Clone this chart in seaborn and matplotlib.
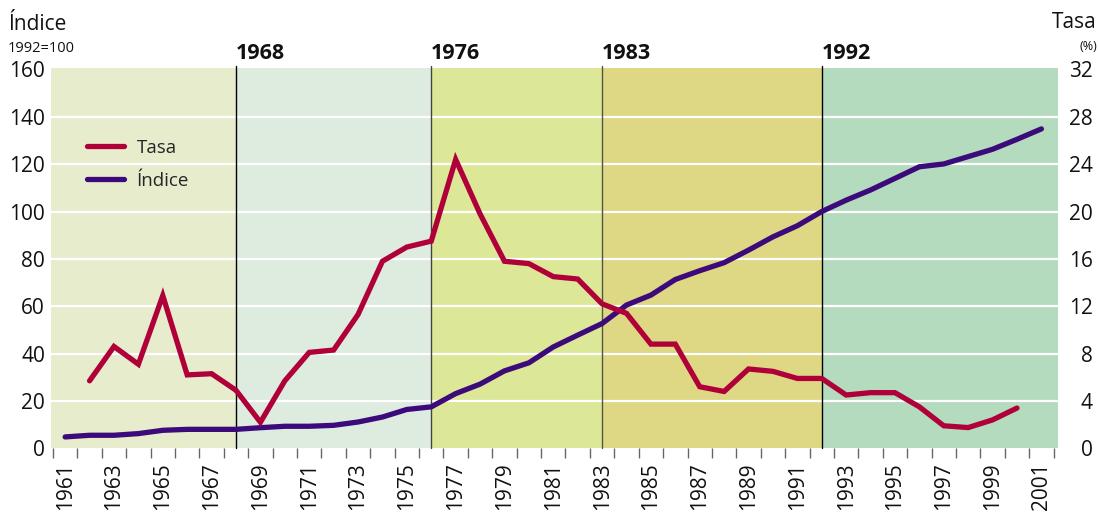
import numpy as np
import pandas as pd
import seaborn as sns
import matplotlib.pyplot as plt
from matplotlib.lines import Line2D
import matplotlib.transforms as mtransforms

# Datos
years = list(range(1961, 2002))
indice = [4.8, 5.5, 5.5, 6.2, 7.6, 8.0, 8.0, 8.0, 8.7, 9.3, 9.3, 9.7, 11.1, 13.2,
          16.4, 17.5, 23.1, 27.1, 32.7, 36.1, 42.8, 47.8, 52.7, 60.5, 64.7, 71.3,
          75.0, 78.4, 83.7, 89.3, 94.0, 100.0, 104.8, 109.1, 114.0, 118.9, 120.1,
          123.2, 126.3, 130.5, 134.9]
tasa_years = list(range(1962, 2001))
tasa = [5.7, 8.6, 7.1, 12.9, 6.2, 6.3, 4.9, 2.2, 5.7, 8.1, 8.3, 11.3, 15.8, 17.0,
        17.5, 24.4, 19.8, 15.8, 15.6, 14.5, 14.3, 12.2, 11.4, 8.8, 8.8, 5.2, 4.8,
        6.7, 6.5, 5.9, 5.9, 4.5, 4.7, 4.7, 3.5, 1.9, 1.75, 2.4, 3.4]
periodos = [1968, 1976, 1983, 1992]
periodo_colores = ["#E6ECCC", "#DEEBDF", "#DCE797", "#DED783", "#B5DBBF"]
periodo_lineas = ["black", "#444444", "#555544", "black"]
left_ticks = [0, 20, 40, 60, 80, 100, 120, 140, 160]
right_ticks = [0, 4, 8, 12, 16, 20, 24, 28, 32]

c_tasa = "#B0003A"
c_indice = "#3C0A7A"

sns.set_style("white")
plt.rcParams['font.family'] = ['Open Sans', 'DejaVu Sans']

fig = plt.figure(figsize=(10.98, 5.17), dpi=100)
ax = fig.add_axes([0.04645, 0.1329, 0.96357 - 0.04645, 0.8679 - 0.1329])
ax2 = ax.twinx()

x0, x1 = 1960.42, 2001.68
ax.set_xlim(x0, x1)
ax.set_ylim(0, 160.5)
ax2.set_ylim(0, 32.1)

# fondos por periodo
edges = [x0] + periodos + [x1]
for i, col in enumerate(periodo_colores):
    ax.axvspan(edges[i], edges[i + 1], color=col, lw=0, zorder=0)

# rejilla
for v in left_ticks[1:-1]:
    ax.axhline(v, color="white", lw=1.6, zorder=0.6)

for yr, lc in zip(periodos, periodo_lineas):
    ax.axvline(yr, ymin=0, ymax=1.006, color=lc, lw=1.0, clip_on=False, zorder=2)
    ax.text(yr, 1.0245, str(yr), transform=mtransforms.blended_transform_factory(ax.transData, ax.transAxes),
            ha="left", va="baseline", fontsize=15.5, fontweight="bold", color="#111111")

sns.lineplot(x=years, y=indice, ax=ax, color=c_indice, linewidth=3.8, zorder=3)
sns.lineplot(x=tasa_years, y=tasa, ax=ax2, color=c_tasa, linewidth=3.8, zorder=3)
for l in ax.lines + ax2.lines:
    l.set_solid_joinstyle("miter")

for a in (ax, ax2):
    for s in a.spines.values():
        s.set_visible(False)
    a.set_xlabel("")
    a.set_ylabel("")

ax.set_yticks(left_ticks)
ax.set_yticklabels([str(t) for t in left_ticks], fontsize=15)
ax.tick_params(axis="y", length=0, pad=4.3, colors="#111111")
ax2.set_yticks(right_ticks)
ax2.set_yticklabels([str(t) for t in right_ticks], fontsize=15)
ax2.tick_params(axis="y", length=0, pad=25.2, colors="#111111")
for t in ax2.get_yticklabels():
    t.set_horizontalalignment("right")

# eje x: etiquetas en años impares, marcas en los medios años
ax.set_xticks(years[::2])
ax.set_xticklabels([str(y) for y in years[::2]], rotation=90, fontsize=15)
ax.set_xticks([y + 0.5 for y in range(1960, 2002)], minor=True)
ax.tick_params(axis="x", which="major", length=0, pad=10, colors="#111111")
ax.tick_params(axis="x", which="minor", length=7.5, width=1.0, color="#666666", direction="out", bottom=True)
for t in ax.get_xticklabels():
    t.set_verticalalignment("top")

handles = [Line2D([], [], color=c_tasa, lw=3.8), Line2D([], [], color=c_indice, lw=3.8)]
ax.legend(handles, ["Tasa", "Índice"], loc="upper left", bbox_to_anchor=(87 / 1098, 1 - 139 / 517),
          bbox_transform=fig.transFigure, frameon=False, fontsize=13.5, handlelength=1.95,
          handletextpad=0.7, labelspacing=0.8, borderpad=0, borderaxespad=0)

fig.text(8 / 1098, 1 - 30 / 517, "Índice", fontsize=15, ha="left", va="baseline", color="#111111")
fig.text(8 / 1098, 1 - 52 / 517, "1992=100", fontsize=10.5, ha="left", va="baseline", color="#111111")
fig.text(1097 / 1098, 1 - 28 / 517, "Tasa", fontsize=15, ha="right", va="baseline", color="#111111")
fig.text(1097 / 1098, 1 - 50 / 517, "(%)", fontsize=9, ha="right", va="baseline", color="#111111")

fig.savefig("out.png", dpi=100)
